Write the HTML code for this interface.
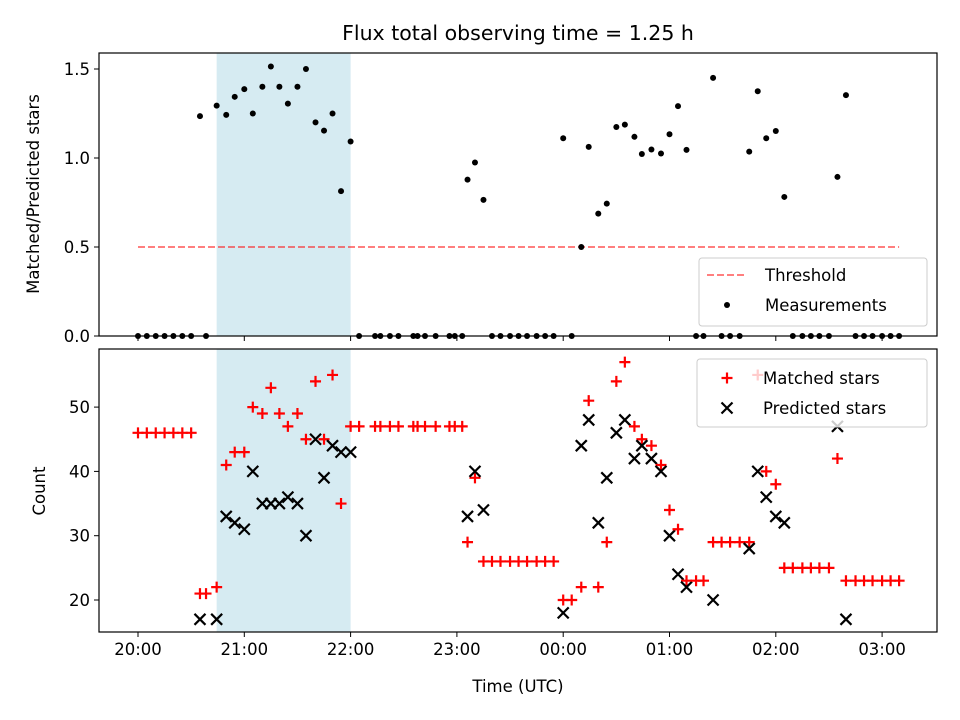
<!DOCTYPE html>
<html><head><meta charset="utf-8"><style>
body{margin:0;background:#fff}
svg{display:block;font-family:"DejaVu Sans","Liberation Sans",sans-serif}
</style></head><body>
<svg id="c" width="960" height="720" viewBox="0 0 960 720">
<rect width="960" height="720" fill="#fff"/>
<text x="518" y="40" font-size="20.5" text-anchor="middle">Flux total observing time = 1.25 h</text>
<g id="topPanel"></g>
<g id="botPanel"></g>
</svg>
<script>
// hours after 20:00 UTC
const times=[0,0.083,0.167,0.25,0.333,0.417,0.5,0.583,0.64,0.74,0.83,0.91,1.0,1.08,1.17,1.25,1.33,1.41,1.5,1.58,1.67,1.75,1.83,1.91,2.0,
2.08,2.23,2.28,2.37,2.45,2.59,2.63,2.7,2.8,2.93,2.98,3.05,3.1,3.17,3.25,3.33,3.41,3.5,3.58,3.66,3.75,3.83,3.91,
4.0,4.08,4.17,4.24,4.33,4.41,4.5,4.58,4.67,4.74,4.83,4.92,5.0,5.08,5.16,5.25,5.32,5.41,5.49,5.57,5.66,5.75,5.83,5.91,6.0,6.08,
6.16,6.25,6.33,6.41,6.5,6.58,6.66,6.75,6.83,6.91,7.0,7.08,7.16];
const matched=[46,46,46,46,46,46,46,21,21,22,41,43,43,50,49,53,49,47,49,45,54,45,55,35,47,
47,47,47,47,47,47,47,47,47,47,47,47,29,39,26,26,26,26,26,26,26,26,26,
20,20,22,51,22,29,54,57,47,45,44,41,34,31,23,23,23,29,29,29,29,29,55,40,38,25,
25,25,25,25,25,42,23,23,23,23,23,23,23];
const predicted=[null,null,null,null,null,null,null,17,null,17,33,32,31,40,35,35,35,36,35,30,45,39,44,43,43,
null,null,null,null,null,null,null,null,null,null,null,null,33,40,34,null,null,null,null,null,null,null,null,
18,null,44,48,32,39,46,48,42,44,42,40,30,24,22,null,null,20,null,null,null,28,40,36,33,32,
null,null,null,null,null,47,17,null,null,null,null,null,null];
const xTickLabels=["20:00","21:00","22:00","23:00","00:00","01:00","02:00","03:00"];
const topTicks=[0,0.5,1.0,1.5];
const botTicks=[20,30,40,50];
const shade=[0.74,2.0];
const threshold=0.5;

const NS="http://www.w3.org/2000/svg";
const L=99,R=937,FS=16.5;
const X=h=>138+h*106.3;
const Yt=v=>336-v*178;
const Yb=v=>600-(v-20)*6.43;
function el(p,tag,a){const e=document.createElementNS(NS,tag);for(const k in a)e.setAttribute(k,a[k]);p.appendChild(e);return e;}
const topG=document.getElementById('topPanel'),botG=document.getElementById('botPanel');
const panels=[[topG,53,336],[botG,349,632]];
panels.forEach(([g,y0,y1],i)=>{
  const s=el(g,'rect',{x:X(shade[0]),y:y0,width:X(shade[1])-X(shade[0]),height:y1-y0,fill:'#add8e6','fill-opacity':0.5});
  
  
});
const th=el(topG,'line',{x1:X(0),x2:X(times[times.length-1]),y1:Yt(threshold),y2:Yt(threshold),stroke:'#ff0000','stroke-opacity':0.5,'stroke-width':2,'stroke-dasharray':'7,3'});


times.forEach((t,i)=>{
  const r=predicted[i]?matched[i]/predicted[i]:0;
  const c=el(topG,'circle',{cx:X(t),cy:Yt(r),r:3,fill:'#000'});
  
  
});
times.forEach((t,i)=>{
  const x=X(t),y=Yb(matched[i]);
  const p=el(botG,'path',{d:`M${x-5.5},${y}H${x+5.5}M${x},${y-5.5}V${y+5.5}`,stroke:'#ff0000','stroke-width':2.2});
  
  
  if(predicted[i]!=null){
    const yy=Yb(predicted[i]);
    const q=el(botG,'path',{d:`M${x-5.5},${yy-5.5}L${x+5.5},${yy+5.5}M${x-5.5},${yy+5.5}L${x+5.5},${yy-5.5}`,stroke:'#000','stroke-width':2.2});
    
    
  }
});
panels.forEach(([g,y0,y1],i)=>{
  const f=el(g,'rect',{x:L,y:y0,width:R-L,height:y1-y0,fill:'none',stroke:'#000','stroke-width':1.2});
  
  
  xTickLabels.forEach((lab,k)=>{
    const x=X(k);
    el(g,'line',{x1:x,x2:x,y1:y1,y2:y1+5,stroke:'#000','stroke-width':1});
    if(i===1){const tx=el(g,'text',{x:x,y:y1+23,'font-size':FS,'text-anchor':'middle'});tx.textContent=lab;
      
      }
  });
  const ticks=i===0?topTicks:botTicks, Y=i===0?Yt:Yb;
  ticks.forEach(v=>{
    const y=Y(v);
    el(g,'line',{x1:L-5,x2:L,y1:y,y2:y,stroke:'#000','stroke-width':1});
    const tx=el(g,'text',{x:L-9,y:y+6,'font-size':FS,'text-anchor':'end'});
    tx.textContent=i===0?v.toFixed(1):String(v);
    
    
  });
});
function txt(g,x,y,s,str,name,rot){const t=el(g,'text',{x:x,y:y,'font-size':s,'text-anchor':'middle'});if(rot)t.setAttribute('transform',`rotate(-90 ${x} ${y})`);t.textContent=str;
  
  return t;}
txt(topG,39,194,FS,'Matched/Predicted stars','top-y-axis-title',true);
txt(botG,45,491,FS,'Count','bottom-y-axis-title',true);
txt(botG,518,692,FS,'Time (UTC)','x-axis-title');
function legendBox(g,x,y,w,h,name){const b=el(g,'rect',{x:x,y:y,width:w,height:h,rx:3,fill:'#fff','fill-opacity':0.8,stroke:'#ccc'});
  
  }
legendBox(topG,699,258,228,68,'top-legend');
el(topG,'line',{x1:707,x2:747,y1:275,y2:275,stroke:'#ff0000','stroke-opacity':0.5,'stroke-width':2,'stroke-dasharray':'7,3'});
el(topG,'circle',{cx:727,cy:305,r:3,fill:'#000'});
const lt1=el(topG,'text',{x:765,y:281,'font-size':FS});lt1.textContent='Threshold';


const lt2=el(topG,'text',{x:765,y:311,'font-size':FS});lt2.textContent='Measurements';


legendBox(botG,697,359,230,68,'bottom-legend');
el(botG,'path',{d:'M721.5,378H732.5M727,372.5V383.5',stroke:'#ff0000','stroke-width':2.2});
el(botG,'path',{d:'M721.5,402.5L732.5,413.5M721.5,413.5L732.5,402.5',stroke:'#000','stroke-width':2.2});
const lb1=el(botG,'text',{x:763,y:384,'font-size':FS});lb1.textContent='Matched stars';


const lb2=el(botG,'text',{x:763,y:414,'font-size':FS});lb2.textContent='Predicted stars';


</script>
</body></html>
